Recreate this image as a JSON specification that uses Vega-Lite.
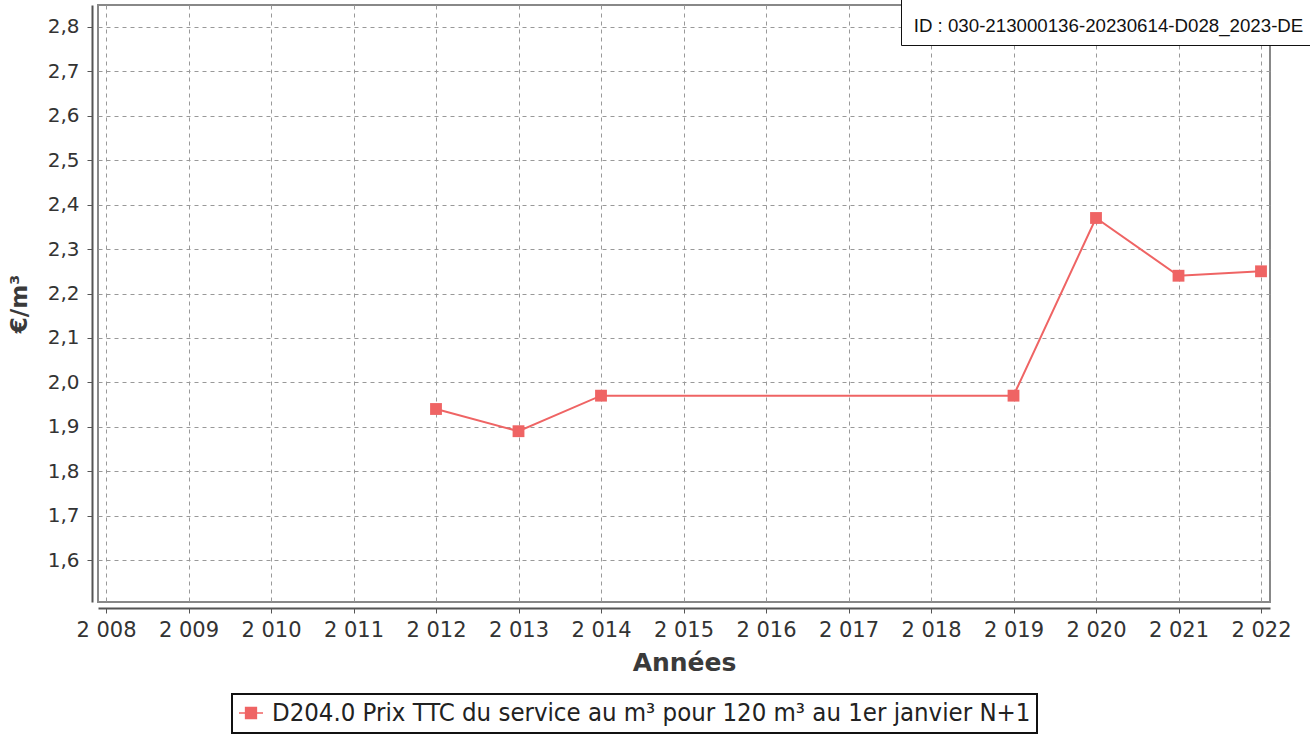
{
  "$schema": "https://vega.github.io/schema/vega-lite/v6.json",
  "width": 1172,
  "height": 597,
  "autosize": "none",
  "padding": {"left": 98, "top": 5, "right": 40, "bottom": 133},
  "background": "white",
  "config": {
    "view": {"stroke": "#888888", "strokeWidth": 2},
    "font": "DejaVu Sans"
  },
  "layer": [
    {
      "data": {
        "values": [
          {"annee": 2012, "prix": 1.94, "serie": "D204.0 Prix TTC du service au m³ pour 120 m³ au 1er janvier N+1"},
          {"annee": 2013, "prix": 1.89, "serie": "D204.0 Prix TTC du service au m³ pour 120 m³ au 1er janvier N+1"},
          {"annee": 2014, "prix": 1.97, "serie": "D204.0 Prix TTC du service au m³ pour 120 m³ au 1er janvier N+1"},
          {"annee": 2019, "prix": 1.97, "serie": "D204.0 Prix TTC du service au m³ pour 120 m³ au 1er janvier N+1"},
          {"annee": 2020, "prix": 2.37, "serie": "D204.0 Prix TTC du service au m³ pour 120 m³ au 1er janvier N+1"},
          {"annee": 2021, "prix": 2.24, "serie": "D204.0 Prix TTC du service au m³ pour 120 m³ au 1er janvier N+1"},
          {"annee": 2022, "prix": 2.25, "serie": "D204.0 Prix TTC du service au m³ pour 120 m³ au 1er janvier N+1"}
        ]
      },
      "mark": {
        "type": "line",
        "strokeWidth": 2,
        "point": {"shape": "square", "size": 140, "filled": true, "opacity": 1}
      },
      "encoding": {
        "x": {
          "field": "annee",
          "type": "quantitative",
          "scale": {"domain": [2007.903, 2022.109], "nice": false, "zero": false},
          "axis": {
            "values": [2008, 2009, 2010, 2011, 2012, 2013, 2014, 2015, 2016, 2017, 2018, 2019, 2020, 2021, 2022],
            "labelExpr": "substring(toString(datum.value),0,1) + ' ' + substring(toString(datum.value),1)",
            "title": "Années",
            "titleFontSize": 25,
            "titleFontWeight": "bold",
            "titleColor": "#3a3a3a",
            "titlePadding": 10,
            "labelFontSize": 21,
            "labelColor": "#333333",
            "labelPadding": 6,
            "labelFlush": false,
            "offset": 6,
            "domainColor": "#555555",
            "domainWidth": 2,
            "tickColor": "#555555",
            "tickSize": 5,
            "grid": true,
            "gridColor": "#999999",
            "gridDash": [4, 4],
            "gridWidth": 1
          }
        },
        "y": {
          "field": "prix",
          "type": "quantitative",
          "scale": {"domain": [1.5055, 2.8495], "nice": false, "zero": false},
          "axis": {
            "values": [1.6, 1.7, 1.8, 1.9, 2.0, 2.1, 2.2, 2.3, 2.4, 2.5, 2.6, 2.7, 2.8],
            "labelExpr": "replace(format(datum.value, '.1f'), '.', ',')",
            "title": "€/m³",
            "titleFontSize": 23,
            "titleFontWeight": "bold",
            "titleColor": "#3a3a3a",
            "titlePadding": 16,
            "labelFontSize": 20,
            "labelColor": "#333333",
            "labelPadding": 8,
            "labelFlush": false,
            "offset": 6,
            "domainColor": "#555555",
            "domainWidth": 2,
            "tickColor": "#555555",
            "tickSize": 5,
            "grid": true,
            "gridColor": "#999999",
            "gridDash": [4, 4],
            "gridWidth": 1
          }
        },
        "color": {
          "field": "serie",
          "type": "nominal",
          "scale": {"range": ["#ef6464"]},
          "legend": {
            "title": null,
            "orient": "none",
            "legendX": 134,
            "legendY": 689,
            "direction": "horizontal",
            "symbolType": "M-1,0H1M-0.45,-0.45H0.45V0.45H-0.45Z",
            "symbolSize": 576,
            "symbolStrokeWidth": 1.5,
            "symbolFillColor": "#ef6464",
            "labelOffset": 8,
            "labelFontSize": 25.5,
            "labelFont": "DejaVu Sans Condensed",
            "labelColor": "#222222",
            "labelLimit": 1000,
            "strokeColor": "#111111",
            "fillColor": "white",
            "padding": 6,
            "encode": {"legend": {"update": {"strokeWidth": {"value": 2}}}}
          }
        }
      }
    },
    {
      "data": {"values": [{"id": "ID : 030-213000136-20230614-D028_2023-DE"}]},
      "mark": {"type": "point", "opacity": 0},
      "encoding": {
        "shape": {
          "field": "id",
          "type": "nominal",
          "legend": {
            "title": " ",
            "titleFontSize": 10,
            "titlePadding": 4,
            "orient": "none",
            "legendX": 803,
            "legendY": -10,
            "symbolSize": 0,
            "symbolOpacity": 0,
            "symbolStrokeWidth": 0,
            "labelOffset": -14,
            "labelFontSize": 18.7,
            "labelFont": "Liberation Sans",
            "labelColor": "#111111",
            "labelLimit": 1000,
            "strokeColor": "#111111",
            "fillColor": "white",
            "padding": 8,
            "encode": {"legend": {"update": {"strokeWidth": {"value": 2.5}}}}
          }
        }
      }
    }
  ]
}
